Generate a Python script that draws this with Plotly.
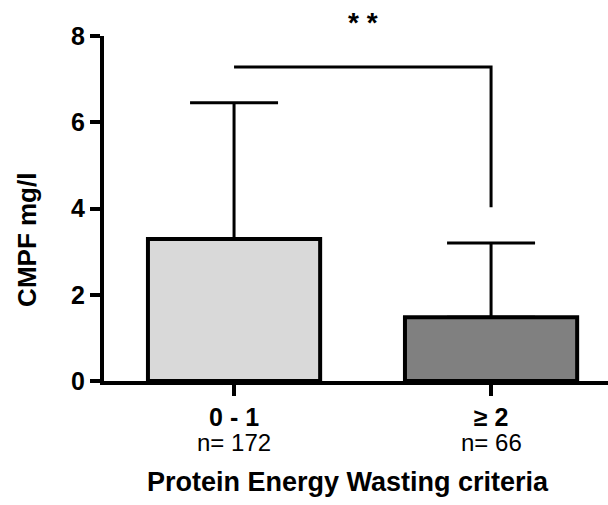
import plotly.graph_objects as go

# Data
categories = ["0 - 1", "≥ 2"]
n_labels = ["n= 172", "n= 66"]
means = [3.29, 1.48]
sds = [3.16, 1.72]
fills = ["#d9d9d9", "#808080"]
y_ticks = [0, 2, 4, 6, 8]
bracket_top = 7.28
bracket_right_bottom = 4.03
sig_label = "* *"

FONT = "Arial, Liberation Sans, sans-serif"
xpos = list(range(len(categories)))

fig = go.Figure()
fig.add_trace(go.Bar(
    x=xpos, y=means, width=0.67,
    marker=dict(color=fills, line=dict(color="black", width=4)),
    error_y=dict(type="data", symmetric=False, array=sds, arrayminus=[0]*len(sds),
                 color="black", thickness=3, width=44),
    showlegend=False,
))

# significance bracket
fig.add_shape(type="path",
              path=f"M {xpos[0]},{bracket_top} L {xpos[1]},{bracket_top} L {xpos[1]},{bracket_right_bottom}",
              xref="x", yref="y", line=dict(color="black", width=3))

fig.add_annotation(x=(xpos[0] + xpos[1]) / 2, xref="x", y=1.04, yref="paper",
                   text=f"<b>{sig_label}</b>", showarrow=False, yanchor="middle",
                   font=dict(family=FONT, size=28, color="black"))

for xi, lab in zip(xpos, n_labels):
    fig.add_annotation(x=xi, xref="x", y=-0.178, yref="paper", text=lab,
                       showarrow=False, yanchor="middle",
                       font=dict(family=FONT, size=24, color="black"))

fig.add_annotation(x=0.485, xref="paper", y=-0.293, yref="paper",
                   text="<b>Protein Energy Wasting criteria</b>", showarrow=False,
                   yanchor="middle", xanchor="center",
                   font=dict(family=FONT, size=27, color="black"))

fig.add_annotation(x=0, xref="paper", xshift=-77, y=0.409, yref="paper",
                   text="<b>CMPF mg/l</b>", showarrow=False, textangle=-90,
                   xanchor="center", yanchor="middle",
                   font=dict(family=FONT, size=26, color="black"))

fig.update_layout(
    width=608, height=505,
    margin=dict(l=104, r=0, t=36, b=124),
    plot_bgcolor="white", paper_bgcolor="white",
    xaxis=dict(range=[-0.506, 1.455], tickvals=xpos,
               ticktext=[f"<b>{c}</b>" for c in categories],
               showline=True, linecolor="black", linewidth=4,
               ticks="outside", ticklen=11, tickwidth=4, tickcolor="black",
               showgrid=False, zeroline=False,
               tickfont=dict(family=FONT, size=25, color="black")),
    yaxis=dict(range=[0, 8], tickvals=y_ticks,
               ticktext=[f"<b>{t}</b>" for t in y_ticks],
               showline=True, linecolor="black", linewidth=4,
               ticks="outside", ticklen=10, tickwidth=4, tickcolor="black",
               showgrid=False, zeroline=False,
               tickfont=dict(family=FONT, size=25, color="black")),
)

fig.write_html("out.html")
